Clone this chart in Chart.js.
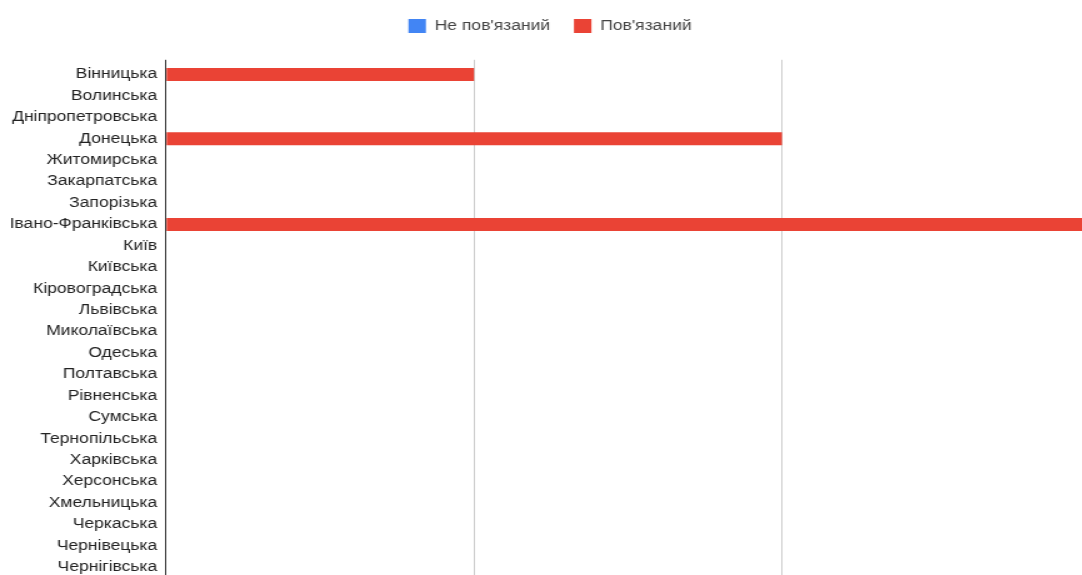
<!DOCTYPE html>
<html>
<head>
<meta charset="utf-8">
<script src="https://cdn.jsdelivr.net/npm/chart.js@4/dist/chart.umd.min.js"></script>
<style>
  html, body { margin: 0; padding: 0; background: #fff; overflow: hidden; }
  #c { display: block; }
</style>
</head>
<body>
<canvas id="c" width="880" height="578" style="width:1100px;height:578px;"></canvas>
<script>
const categories = [
  "Вінницька", "Волинська", "Дніпропетровська", "Донецька", "Житомирська",
  "Закарпатська", "Запорізька", "Івано-Франківська", "Київ", "Київська",
  "Кіровоградська", "Львівська", "Миколаївська", "Одеська", "Полтавська",
  "Рівненська", "Сумська", "Тернопільська", "Харківська", "Херсонська",
  "Хмельницька", "Черкаська", "Чернівецька", "Чернігівська"
];
const seriesNames = ["Не пов'язаний", "Пов'язаний"];
const notLinked = [0,0,0,0,0,0,0,0,0,0,0,0,0,0,0,0,0,0,0,0,0,0,0,0];
const linked    = [1,0,0,2,0,0,0,3,0,0,0,0,0,0,0,0,0,0,0,0,0,0,0,0];
const xTicks = [0, 1, 2, 3];

const TOP_PAD = 0;
const LEG_PAD = 19;
const PLOT_TOP = 63.8;

new Chart(document.getElementById('c'), {
  type: 'bar',
  data: {
    labels: categories,
    datasets: [
      { label: seriesNames[0], data: notLinked, backgroundColor: '#4285F4', borderWidth: 0,
        barPercentage: 1, categoryPercentage: 0.6 },
      { label: seriesNames[1], data: linked, backgroundColor: '#EA4335', borderWidth: 0,
        barPercentage: 1, categoryPercentage: 0.6 }
    ]
  },
  options: {
    indexAxis: 'y',
    responsive: false,
    animation: false,
    devicePixelRatio: 1,
    layout: { padding: { left: 8, right: 8, top: TOP_PAD, bottom: 0 } },
    plugins: {
      legend: {
        position: 'top',
        labels: {
          boxWidth: 14, boxHeight: 14, padding: LEG_PAD,
          color: '#444',
          font: { family: 'Arial, "Liberation Sans", sans-serif', size: 14 }
        }
      },
      tooltip: { enabled: false }
    },
    scales: {
      x: {
        position: 'top',
        stacked: true,
        min: xTicks[0],
        max: xTicks[xTicks.length - 1],
        ticks: { display: false, stepSize: 1 },
        grid: {
          color: (ctx) => (ctx.tick && ctx.tick.value === 0) ? '#333' : '#cccccc',
          lineWidth: 1,
          drawTicks: true,
          tickLength: 4
        },
        border: { display: false },
        afterFit: (s) => {
          const lh = s.chart.legend ? s.chart.legend.height : 0;
          s.height = Math.max(PLOT_TOP - TOP_PAD - lh, 0);
        }
      },
      y: {
        stacked: true,
        ticks: {
          color: '#222',
          padding: 7,
          autoSkip: false,
          font: { family: 'Arial, "Liberation Sans", sans-serif', size: 14 }
        },
        grid: { display: false, drawTicks: false },
        border: { display: true, color: '#333', width: 1 },
        afterFit: (s) => { s.width = 124.8; s.paddingTop = 0; s.paddingBottom = 0; }
      }
    }
  }
});
</script>
</body>
</html>
